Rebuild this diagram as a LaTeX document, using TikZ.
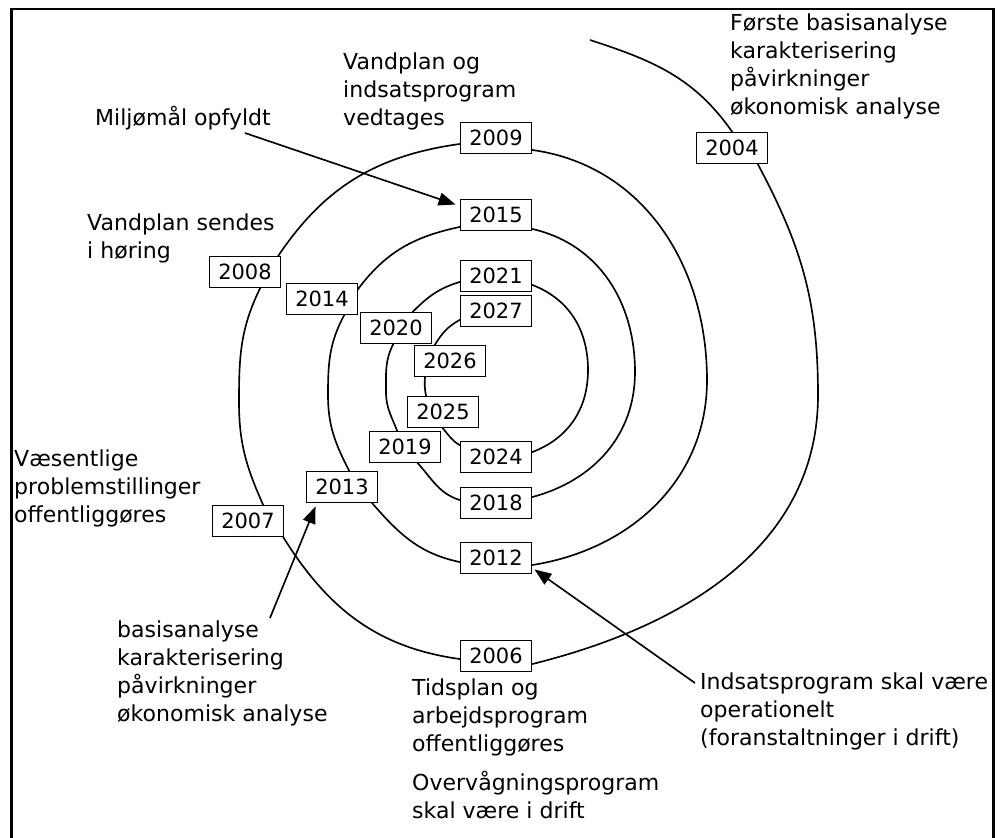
\documentclass[tikz,border=0pt]{standalone}
\usepackage{fontspec}
\setmainfont{DejaVu Sans}
\usetikzlibrary{arrows.meta,backgrounds}

\tikzset{
  yearbox/.style={draw, fill=white, line width=1.6pt, minimum width=2.13cm,
    minimum height=0.93cm, inner sep=0pt, font=\fontsize{17.9}{20}\selectfont},
  lbl/.style={anchor=base west, align=left, inner sep=0pt,
    font=\fontsize{18.8}{23.9}\selectfont},
  spiral/.style={line width=1.4pt},
  arr/.style={line width=1.4pt, -{Triangle[length=14.5pt,width=11pt]}},
}

\begin{document}
\begin{tikzpicture}[x=0.03cm, y=0.03cm]
  \useasboundingbox (0,0) rectangle (1003,-838);

  % Frame, open at the bottom
  \draw[line width=2.2pt] (11.5,-838) -- (11.5,-9) -- (993.5,-9) -- (993.5,-838);

  % Year boxes
  \node[yearbox] (y2004) at (732,-148) {2004};
  \node[yearbox] (y2006) at (496,-656) {2006};
  \node[yearbox] (y2007) at (248,-521) {2007};
  \node[yearbox] (y2008) at (245,-272) {2008};
  \node[yearbox] (y2009) at (496,-138) {2009};
  \node[yearbox] (y2012) at (496,-558) {2012};
  \node[yearbox] (y2013) at (342,-487) {2013};
  \node[yearbox] (y2014) at (322,-299) {2014};
  \node[yearbox] (y2015) at (496,-215) {2015};
  \node[yearbox] (y2018) at (496,-503) {2018};
  \node[yearbox] (y2019) at (405,-447) {2019};
  \node[yearbox] (y2020) at (396,-328) {2020};
  \node[yearbox] (y2021) at (496,-276) {2021};
  \node[yearbox] (y2024) at (496,-457) {2024};
  \node[yearbox] (y2025) at (443,-412) {2025};
  \node[yearbox] (y2026) at (450,-361) {2026};
  \node[yearbox] (y2027) at (496,-311) {2027};

  % Spiral turning points
  \coordinate (s0) at (590,-40);
  \coordinate (r1) at (818,-395);
  \coordinate (l1) at (239,-402);
  \coordinate (r2) at (707,-380);
  \coordinate (l2) at (328,-395);
  \coordinate (r3) at (635,-372);
  \coordinate (l3) at (386,-392);
  \coordinate (r4) at (588,-370);

  % Spiral, behind the boxes
  \begin{scope}[on background layer]
    \draw[spiral] (s0) to[out=-18,in=125] (y2004.north)
      -- ([shift={(26,0)}]y2004.south) to[out=-62,in=90] (r1)
      to[out=-90,in=14] ([shift={(0,-8)}]y2006.east)
      -- ([shift={(0,-3)}]y2006.west) to[out=172,in=-58] ([shift={(-1,0)}]y2007.south east)
      -- ([shift={(15,0)}]y2007.north) to[out=114,in=-90] (l1)
      to[out=90,in=-116] ([shift={(15,0)}]y2008.south)
      -- ([shift={(-3,0)}]y2008.north east) to[out=56,in=188] ([shift={(0,-6)}]y2009.west)
      -- ([shift={(0,-12)}]y2009.east) to[out=-8,in=90] (r2)
      to[out=-90,in=9] ([shift={(0,-7)}]y2012.east)
      -- ([shift={(0,-4)}]y2012.west) to[out=168,in=-49] ([shift={(-6,0)}]y2013.south east)
      -- ([shift={(7,0)}]y2013.north) to[out=117,in=-90] (l2)
      to[out=90,in=-118] ([shift={(22,0)}]y2014.south)
      -- ([shift={(0,-6)}]y2014.north east) to[out=53,in=192] ([shift={(0,-12)}]y2015.west)
      -- ([shift={(0,-14)}]y2015.east) to[out=-13,in=90] (r3)
      to[out=-90,in=15] ([shift={(0,6)}]y2018.east)
      -- ([shift={(0,3)}]y2018.west) to[out=162,in=-48] ([shift={(13,0)}]y2019.south)
      -- ([shift={(-8,0)}]y2019.north) to[out=111,in=-90] (l3)
      to[out=90,in=-116] ([shift={(-3,0)}]y2020.south)
      -- ([shift={(17,0)}]y2020.north) to[out=45,in=197] ([shift={(0,-6)}]y2021.west)
      -- ([shift={(0,-9)}]y2021.east) to[out=-21,in=90] (r4)
      to[out=-90,in=21] ([shift={(0,5)}]y2024.east)
      -- ([shift={(0,12)}]y2024.west) to[out=150,in=-50] (y2025.south)
      -- ([shift={(-17,0)}]y2025.north) to[out=101,in=-95] ([shift={(-25,0)}]y2026.south)
      -- ([shift={(-15,0)}]y2026.north) to[out=58,in=209] ([shift={(0,-9)}]y2027.west)
      -- (y2027.center);
  \end{scope}

  % Milestone texts (placed at the baseline of their last line)
  \node[lbl] (vedtages) at (343,-125) {Vandplan og\\indsatsprogram\\vedtages};
  \node[lbl] (miljoe) at (95,-125) {Miljømål opfyldt};
  \node[lbl] (hoering) at (87,-258) {Vandplan sendes\\i høring};
  \node[lbl] (foerste) at (730,-114) {Første basisanalyse\\karakterisering\\påvirkninger\\økonomisk analyse};
  \node[lbl] (vaesentlige) at (14,-522) {Væsentlige\\problemstillinger\\offentliggøres};
  \node[lbl] (basis) at (117,-721) {basisanalyse\\karakterisering\\påvirkninger\\økonomisk analyse};
  \node[lbl] (tidsplan) at (412,-751) {Tidsplan og\\arbejdsprogram\\offentliggøres};
  \node[lbl] (overvaag) at (412,-818) {Overvågningsprogram\\skal være i drift};
  \node[lbl] (indsats) at (700,-745) {Indsatsprogram skal være\\operationelt\\(foranstaltninger i drift)};

  % Pointers
  \coordinate (mtail) at (245,-133);
  \coordinate (btail) at (270,-618);
  \coordinate (itail) at (695,-683);
  \draw[arr] (mtail) -- ([shift={(-4,-6)}]y2015.north west);
  \draw[arr] (btail) -- ([shift={(10,-3)}]y2013.south west);
  \draw[arr] (itail) -- ([shift={(2,5)}]y2012.south east);
\end{tikzpicture}
\end{document}
